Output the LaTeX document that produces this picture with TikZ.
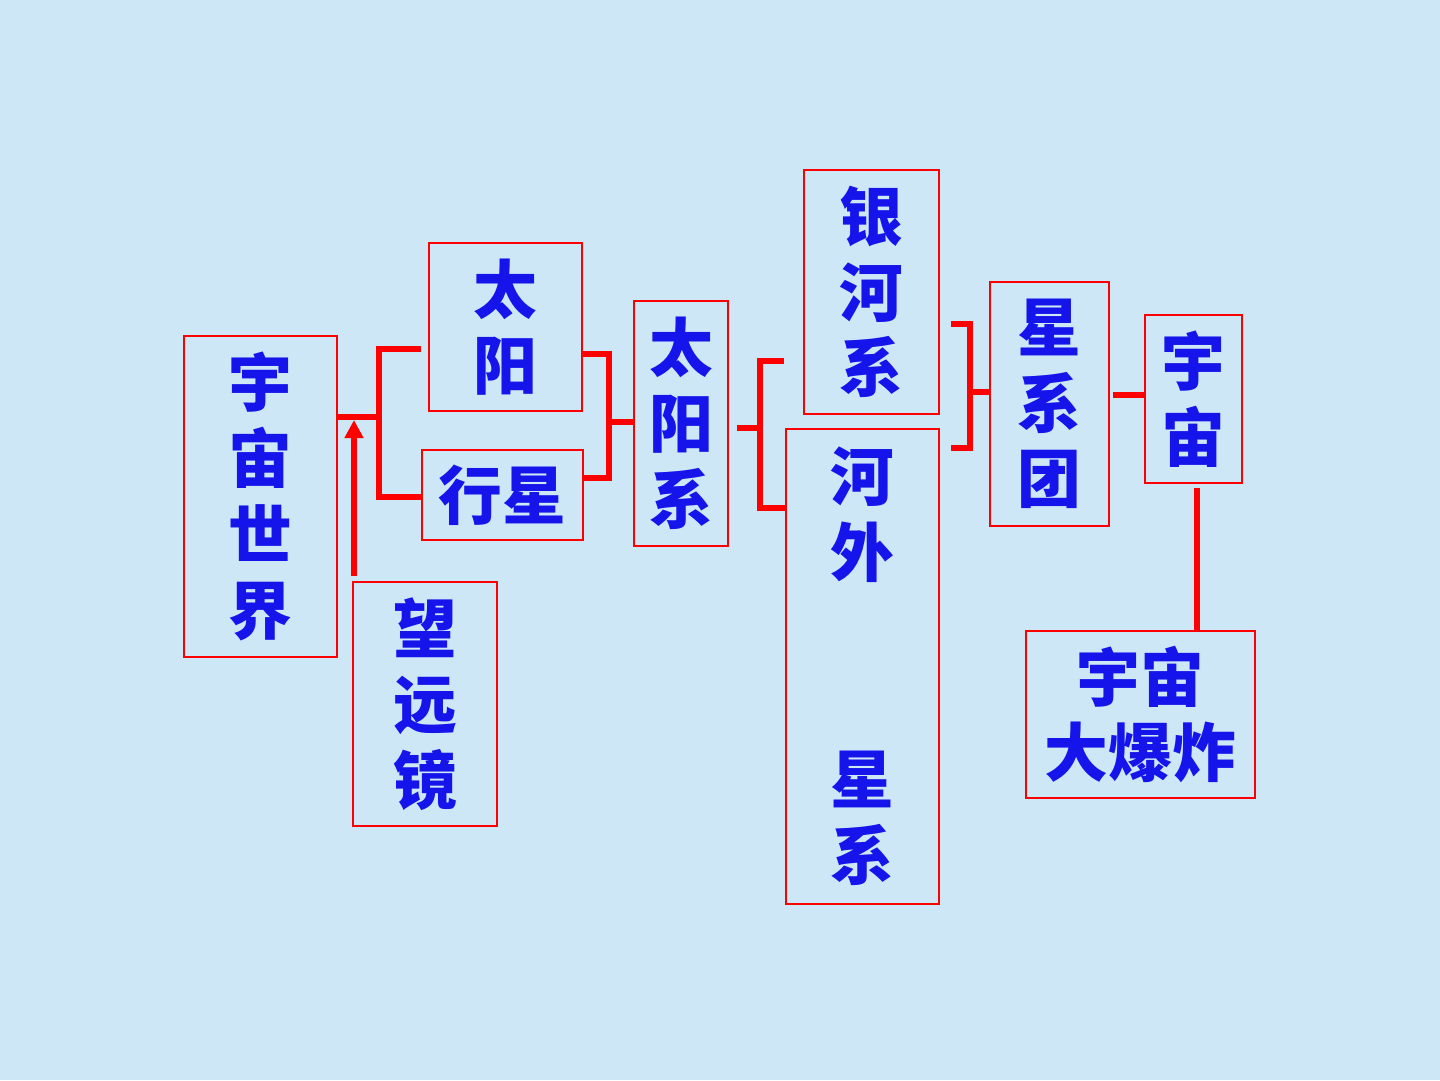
\documentclass[tikz,border=0pt]{standalone}
\usepackage{fontspec}
\usetikzlibrary{arrows.meta,calc}
\newfontfamily\cjk{Noto Sans CJK SC Black}
\definecolor{bgblue}{RGB}{205,231,246}
\definecolor{txtblue}{RGB}{20,20,235}
\definecolor{linered}{RGB}{255,0,0}
\begin{document}
\begin{tikzpicture}[x=0.02cm,y=-0.02cm,
  box/.style={draw=linered,line width=0.7pt,rectangle,inner sep=0pt,align=center,
    text=txtblue,font=\cjk\fontsize{36.3pt}{43.1pt}\selectfont},
  conn/.style={draw=linered,line width=0.12cm},
  arr/.style={conn,-{Triangle[width=0.36cm,length=0.36cm]}}]
\fill[bgblue] (0,0) rectangle (1440,1080);
\useasboundingbox (0,0) rectangle (1440,1080);
\node[box,minimum width=3.06cm,minimum height=6.42cm] (A) at (260.5,496.5) {宇\\宙\\世\\界};
\node[box,minimum width=3.06cm,minimum height=3.36cm] (B) at (505.5,327) {太\\阳};
\node[box,minimum width=3.22cm,minimum height=1.80cm] (C) at (502.5,495) {行星};
\node[box,minimum width=2.88cm,minimum height=4.88cm] (D) at (425,704) {望\\远\\镜};
\node[box,minimum width=1.88cm,minimum height=4.90cm] (E) at (681,423.5) {太\\阳\\系};
\node[box,minimum width=2.70cm,minimum height=4.88cm] (F) at (871.5,292) {银\\河\\系};
\node[box,minimum width=3.06cm,minimum height=9.50cm] (G) at (862.5,666.5) {河\\外\\[86.2pt]星\\系};
\node[box,minimum width=2.38cm,minimum height=4.88cm] (H) at (1049.5,404) {星\\系\\团};
\node[box,minimum width=1.94cm,minimum height=3.36cm] (I) at (1193.5,399) {宇\\宙};
\node[box,minimum width=4.58cm,minimum height=3.34cm] (J) at (1140.5,714.5) {宇宙\\大爆炸};
% connector 1
\draw[conn] (A.east |- 0,417) -- (379,417);
\draw[conn] ($(B.west |- 0,349)+(-7,0)$) -- (379,349) -- (379,497) -- (C.west |- 0,497);
\draw[arr] ($(D.north -| 354,0)+(0,-5)$) -- (354,420);
% connector 2
\draw[conn] (B.east |- 0,354) -- (609,354) -- (609,478) -- (C.east |- 0,478);
\draw[conn] (609,422) -- (E.west |- 0,422);
% connector 3
\draw[conn] ($(E.east |- 0,428)+(8,0)$) -- (760,428);
\draw[conn] ($(F.west |- 0,361)+(-19,0)$) -- (760,361) -- (760,508) -- (G.west |- 0,508);
% connector 4
\draw[conn] ($(F.east |- 0,324)+(11,0)$) -- (970,324) -- (970,448) -- ($(G.east |- 0,448)+(11,0)$);
\draw[conn] (970,392) -- (H.west |- 0,392);
% connector 5
\draw[conn] ($(H.east |- 0,395)+(3,0)$) -- (I.west |- 0,395);
% connector 6
\draw[conn] ($(I.south -| 1197,0)+(0,4)$) -- (J.north -| 1197,0);
\end{tikzpicture}
\end{document}
